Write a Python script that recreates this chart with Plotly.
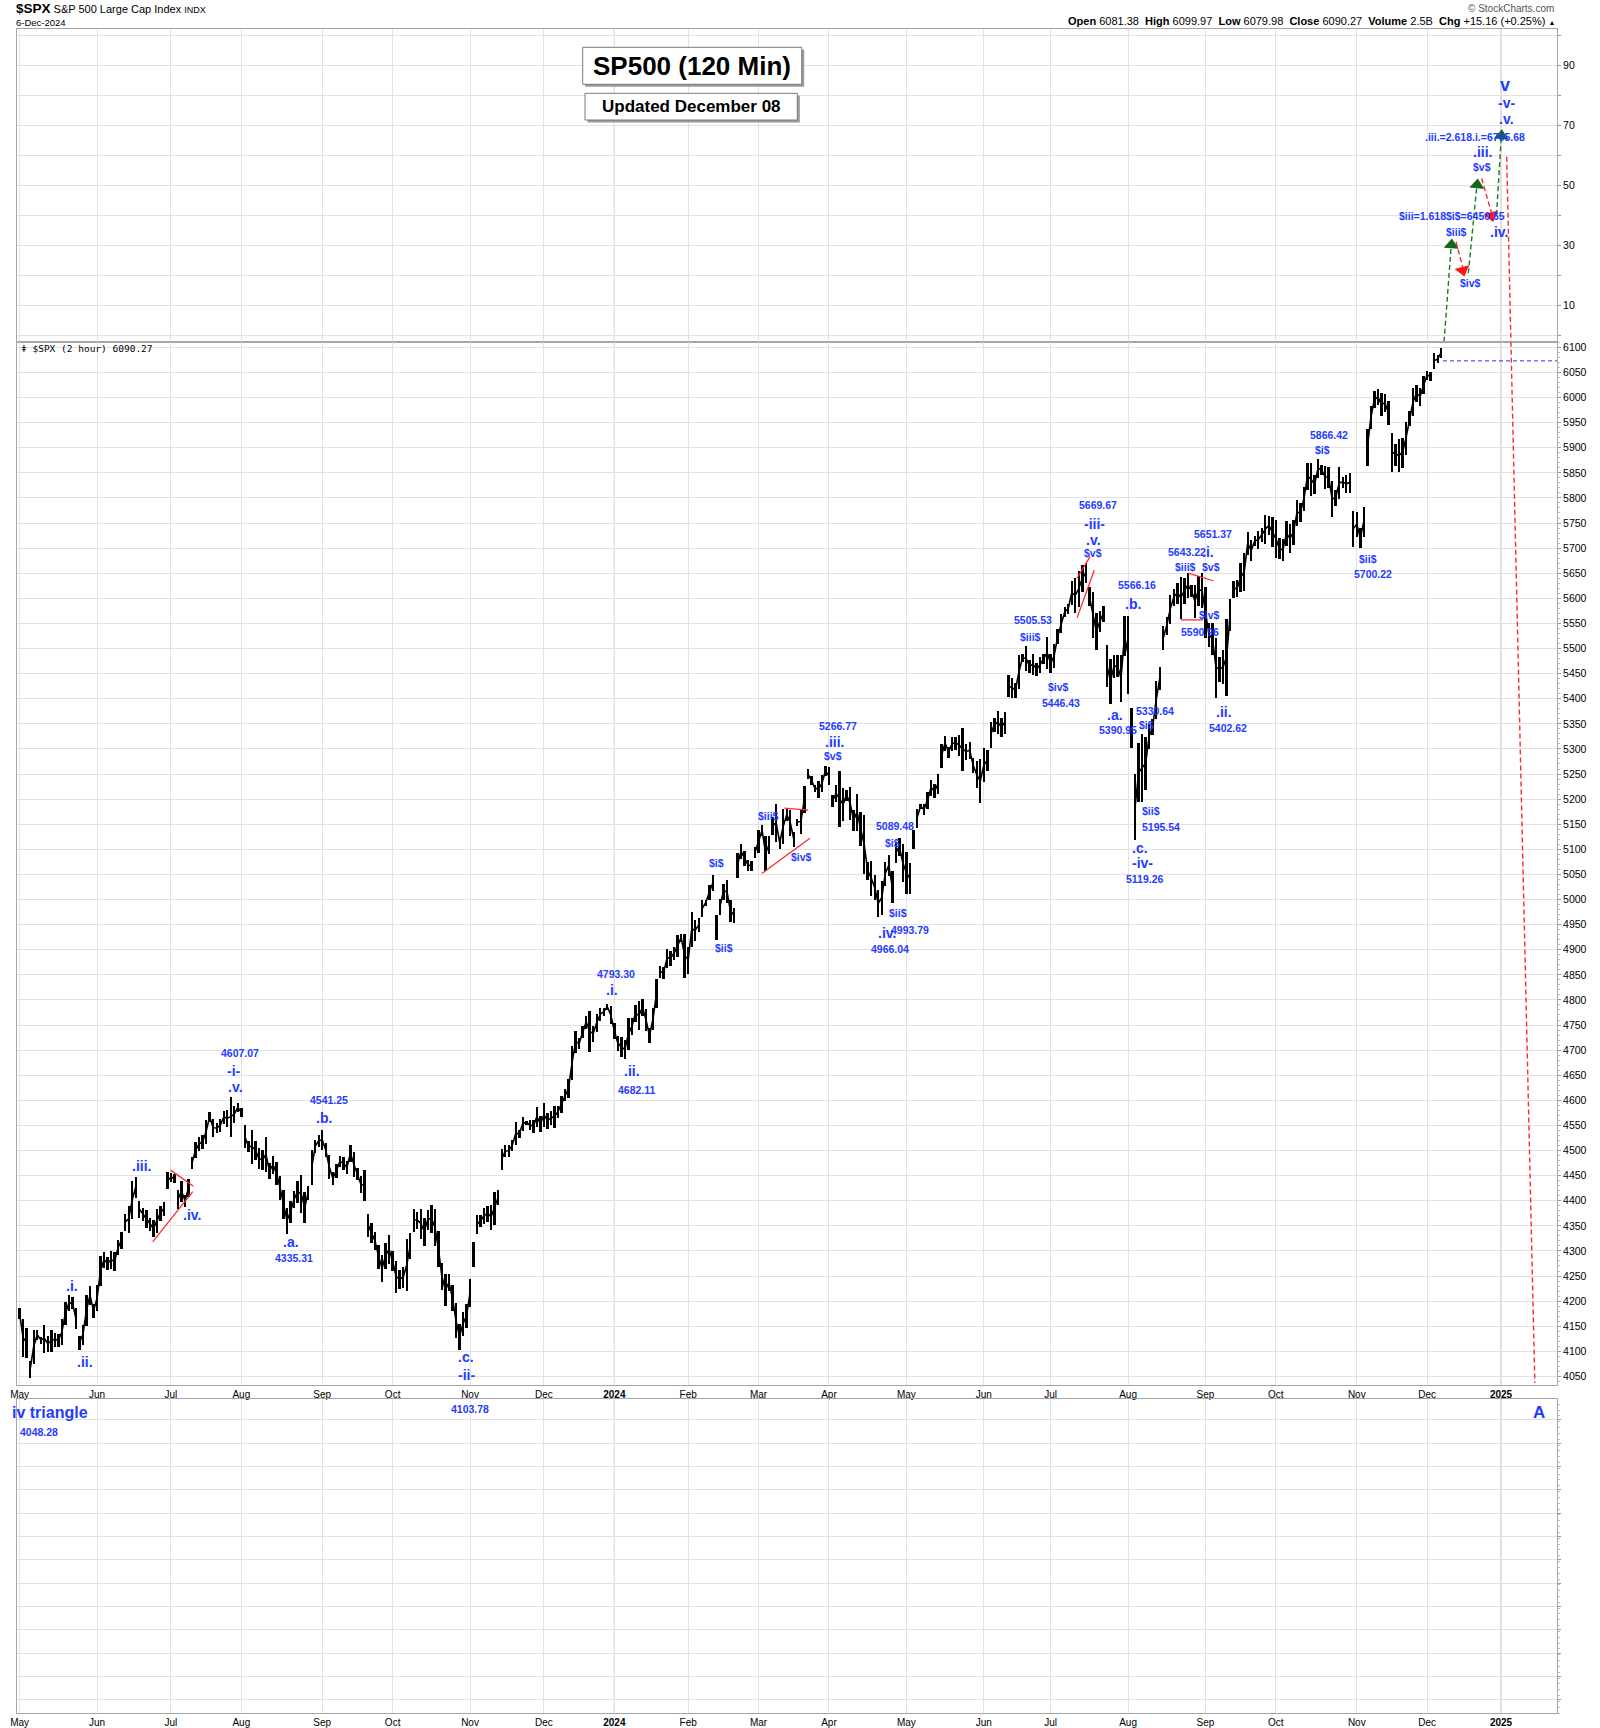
import pandas as pd
import plotly.graph_objects as go

# ---------------- data ----------------
holidays = pd.to_datetime([
    "2023-05-29", "2023-06-19", "2023-07-04", "2023-09-04", "2023-11-23", "2023-12-25",
    "2024-01-01", "2024-01-15", "2024-02-19", "2024-03-29", "2024-05-27", "2024-06-19",
    "2024-07-04", "2024-09-02", "2024-11-28", "2024-12-25", "2025-01-01", "2025-01-09",
    "2025-01-20"])
trading_days = [d for d in pd.bdate_range("2023-05-01", "2025-01-31") if d not in holidays]

high_2023 = [
    4186, 4164, 4148, 4082, 4143, 4143, 4130, 4154, 4132, 4143, 4138, 4135, 4164, 4198, 4212, 4208, 4186, 4132, 4154, 4212, 4231, 4195,
    4232, 4290, 4299, 4288, 4300, 4298, 4322, 4339, 4375, 4391, 4439, 4448, 4400, 4387, 4382, 4366, 4362, 4384, 4390, 4398, 4458,
    4456, 4454, 4422, 4440, 4412, 4443, 4488, 4517, 4527, 4532, 4562, 4578, 4564, 4555, 4563, 4580, 4582, 4607, 4590, 4595,
    4585, 4551, 4520, 4541, 4520, 4505, 4502, 4527, 4476, 4490, 4477, 4450, 4421, 4386, 4401, 4419, 4439, 4452, 4418, 4429, 4501, 4521, 4532,
    4541, 4515, 4491, 4458, 4473, 4490, 4488, 4479, 4511, 4497, 4466, 4449, 4461, 4375, 4357, 4338, 4313, 4292, 4317, 4333,
    4300, 4281, 4263, 4268, 4324, 4336, 4385, 4378, 4385, 4367, 4383, 4393, 4385, 4340, 4276, 4255, 4254, 4232, 4196, 4156, 4178, 4194,
    4245, 4319, 4373, 4372, 4386, 4391, 4393, 4418, 4421, 4504, 4511, 4512, 4521, 4557, 4542, 4568, 4560, 4561, 4562, 4588, 4569,
    4595, 4575, 4579, 4590, 4590, 4610, 4623, 4643, 4709, 4739, 4725, 4749, 4769, 4778, 4749, 4772, 4784, 4785, 4793, 4788,
]
low_2023 = [
    4164, 4089, 4088, 4048, 4076, 4123, 4116, 4098, 4099, 4099, 4110, 4109, 4113, 4153, 4180, 4184, 4145, 4103, 4114, 4152, 4192, 4166,
    4180, 4231, 4266, 4263, 4264, 4261, 4292, 4305, 4341, 4337, 4365, 4407, 4367, 4360, 4346, 4341, 4328, 4336, 4361, 4371, 4423,
    4437, 4436, 4385, 4398, 4389, 4408, 4463, 4485, 4499, 4504, 4514, 4557, 4527, 4535, 4537, 4553, 4547, 4528, 4555, 4577,
    4567, 4505, 4497, 4474, 4482, 4463, 4461, 4457, 4443, 4453, 4432, 4403, 4364, 4335, 4356, 4387, 4397, 4376, 4356, 4403, 4431, 4496, 4507,
    4501, 4487, 4443, 4431, 4446, 4467, 4461, 4453, 4478, 4447, 4442, 4416, 4401, 4329, 4316, 4302, 4265, 4239, 4264, 4274,
    4260, 4216, 4225, 4227, 4220, 4284, 4339, 4345, 4325, 4311, 4343, 4337, 4311, 4268, 4223, 4190, 4220, 4181, 4127, 4104, 4132, 4147,
    4188, 4268, 4334, 4348, 4355, 4359, 4343, 4353, 4393, 4461, 4487, 4487, 4500, 4511, 4525, 4540, 4552, 4541, 4536, 4547, 4537,
    4547, 4544, 4551, 4546, 4565, 4575, 4599, 4606, 4642, 4695, 4702, 4724, 4743, 4697, 4717, 4737, 4758, 4768, 4780, 4752,
]
high_2024 = [
    4755, 4729, 4726, 4721, 4764, 4765, 4790, 4798, 4802, 4782, 4744, 4785, 4842, 4868, 4866, 4903, 4898, 4906, 4929, 4932, 4932,
    4907, 4975, 4960, 4963, 4999, 5000, 5030, 5049, 4969, 5002, 5032, 5039, 4999, 4984, 5094, 5111, 5097, 5080, 5077, 5105,
    5140, 5149, 5128, 5127, 5165, 5190, 5125, 5180, 5180, 5179, 5136, 5162, 5179, 5226, 5261, 5247, 5229, 5236, 5249, 5266,
    5264, 5208, 5229, 5256, 5222, 5219, 5225, 5178, 5211, 5175, 5168, 5076, 5078, 5049, 5019, 5038, 5076, 5089, 5057, 5114, 5123, 5111,
    5096, 5073, 5139, 5181, 5191, 5190, 5215, 5239, 5230, 5250, 5311, 5326, 5305, 5325, 5325, 5329, 5342, 5311, 5315, 5282, 5276, 5280,
    5302, 5298, 5355, 5362, 5376, 5362, 5375, 5447, 5441, 5432, 5488, 5490, 5506, 5478, 5490, 5472, 5483, 5490, 5524,
    5490, 5510, 5539, 5570, 5583, 5590, 5635, 5642, 5655, 5666, 5670, 5623, 5614, 5571, 5575, 5586, 5508, 5480, 5488, 5487, 5487, 5566,
    5566, 5383, 5250, 5312, 5330, 5325, 5351, 5360, 5436, 5464, 5545, 5564, 5608, 5620, 5632, 5643, 5641, 5651, 5628, 5627, 5646, 5651,
    5623, 5552, 5551, 5522, 5484, 5497, 5560, 5600, 5636, 5637, 5670, 5690, 5733, 5716, 5725, 5735, 5741, 5767, 5764, 5763,
    5757, 5720, 5718, 5754, 5749, 5757, 5796, 5791, 5823, 5871, 5870, 5846, 5878, 5866, 5865, 5863, 5834, 5817, 5862, 5843, 5847, 5850, 5775,
    5772, 5741, 5783, 5937, 5983, 6013, 6017, 6009, 6008, 5993, 5930, 5909, 5917, 5920, 5952, 5973, 6020, 6025, 6020, 6044,
    6053, 6052, 6089, 6085, 6100,
]
low_2024 = [
    4722, 4699, 4687, 4682, 4700, 4730, 4756, 4740, 4769, 4739, 4714, 4740, 4785, 4844, 4842, 4865, 4869, 4881, 4887, 4916, 4845,
    4853, 4907, 4918, 4936, 4966, 4988, 4999, 5017, 4920, 4970, 4999, 4994, 4956, 4953, 5043, 5081, 5068, 5057, 5058, 5084,
    5094, 5127, 5057, 5092, 5130, 5115, 5102, 5112, 5158, 5128, 5105, 5148, 5131, 5172, 5240, 5229, 5215, 5203, 5214, 5246,
    5229, 5184, 5194, 5146, 5157, 5197, 5160, 5138, 5138, 5107, 5052, 5039, 5008, 4999, 4966, 4969, 5028, 5047, 4994, 5073, 5088, 5035,
    5011, 5011, 5101, 5143, 5180, 5169, 5180, 5207, 5202, 5211, 5263, 5297, 5283, 5297, 5299, 5287, 5256, 5279, 5280, 5252, 5222, 5192,
    5234, 5257, 5303, 5335, 5331, 5325, 5331, 5405, 5403, 5403, 5420, 5473, 5455, 5452, 5447, 5446, 5452, 5469, 5460,
    5451, 5461, 5509, 5531, 5563, 5569, 5587, 5571, 5584, 5614, 5632, 5586, 5522, 5497, 5534, 5553, 5424, 5391, 5441, 5444, 5395, 5485,
    5410, 5302, 5119, 5194, 5195, 5218, 5300, 5328, 5360, 5417, 5497, 5528, 5550, 5585, 5590, 5560, 5589, 5602, 5603, 5562, 5586, 5582,
    5521, 5503, 5488, 5403, 5434, 5430, 5406, 5535, 5601, 5604, 5614, 5615, 5686, 5674, 5704, 5698, 5712, 5708, 5727, 5703,
    5681, 5678, 5675, 5704, 5690, 5706, 5745, 5752, 5775, 5816, 5804, 5808, 5840, 5846, 5819, 5820, 5762, 5784, 5799, 5820, 5810, 5811, 5702,
    5723, 5700, 5722, 5864, 5937, 5979, 5986, 5963, 5971, 5945, 5853, 5865, 5853, 5861, 5887, 5944, 5963, 5992, 5984, 6007,
    6035, 6034, 6057, 6069, 6080,
]
day_high = high_2023 + high_2024
day_low = low_2023 + low_2024
n_days = min(len(day_high), len(day_low))
day_high, day_low = day_high[:n_days], day_low[:n_days]
bar_idx = list(range(n_days))

# price-axis tick values / top panel tick labels
price_ticks = list(range(4050, 6101, 50))
top_ticks = list(range(0, 101, 10))
top_tick_labels = ["" if v % 20 == 0 else str(v) for v in top_ticks]

# wave labels (trading-day index, price, text, style)
main_labels = [
    (14.8, 4231, ".i.", "w"), (18.5, 4079, ".ii.", "w"), (34.7, 4469, ".iii.", "w"), (48.9, 4372, ".iv.", "w"),
    (62.6, 4694, "4607.07", "n"), (61.0, 4658, "-i-", "w"), (61.3, 4627, ".v.", "w"),
    (87.9, 4601, "4541.25", "n"), (86.6, 4564, ".b.", "w"), (77.0, 4317, ".a.", "w"), (78.0, 4286, "4335.31", "n"),
    (126.9, 4088, ".c.", "w"), (126.9, 4052, "-ii-", "w"),
    (169.5, 4852, "4793.30", "n"), (168.2, 4819, ".i.", "w"), (173.9, 4658, ".ii.", "w"), (175.4, 4621, "4682.11", "n"),
    (198.0, 5073, "$i$", "n"), (200.2, 4904, "$ii$", "n"), (212.7, 5166, "$iii$", "n"), (222.1, 5085, "$iv$", "n"),
    (232.5, 5346, "5266.77", "n"), (231.7, 5314, ".iii.", "w"), (231.2, 5285, "$v$", "n"),
    (248.8, 5146, "5089.48", "n"), (248.1, 5113, "$i$", "n"), (249.7, 4973, "$ii$", "n"), (253.0, 4939, "4993.79", "n"),
    (246.4, 4933, ".iv.", "w"), (247.3, 4901, "4966.04", "n"),
    (288.1, 5556, "5505.53", "n"), (287.2, 5523, "$iii$", "n"), (295.1, 5424, "$iv$", "n"), (296.0, 5391, "5446.43", "n"),
    (306.5, 5785, "5669.67", "n"), (305.4, 5749, "-iii-", "w"), (305.1, 5716, ".v.", "w"), (305.1, 5690, "$v$", "n"),
    (317.4, 5626, "5566.16", "n"), (316.3, 5588, ".b.", "w"), (311.3, 5368, ".a.", "w"), (312.2, 5338, "5390.95", "n"),
    (322.6, 5376, "5330.64", "n"), (320.3, 5348, "$i$", "n"), (321.6, 5177, "$ii$", "n"), (324.3, 5144, "5195.54", "n"),
    (318.4, 5102, ".c.", "w"), (319.2, 5072, "-iv-", "w"), (319.8, 5041, "5119.26", "n"),
    (339.0, 5728, "5651.37", "n"), (337.7, 5693, ".i.", "w"), (331.8, 5693, "5643.22", "n"),
    (331.4, 5663, "$iii$", "n"), (338.5, 5663, "$v$", "n"), (338.1, 5567, "$iv$", "n"), (335.4, 5532, "5590.96", "n"),
    (342.3, 5374, ".ii.", "w"), (343.3, 5342, "5402.62", "n"),
    (372.1, 5925, "5866.42", "n"), (370.3, 5895, "$i$", "n"), (383.3, 5678, "$ii$", "n"), (384.5, 5648, "5700.22", "n"),
]
top_labels = [
    (422.1, 83.3, "v", "big"), (422.6, 77.4, "-v-", "w"), (422.6, 71.9, ".v.", "w"),
    (413.6, 66.1, ".iii.=2.618.i.=6765.68", "n"), (415.7, 60.9, ".iii.", "w"), (415.7, 55.9, "$v$", "n"),
    (407.2, 39.8, "$iii=1.618$i$=6450.65", "n"), (408.2, 34.4, "$iii$", "n"), (412.2, 17.4, "$iv$", "n"),
    (420.5, 34.4, ".iv.", "w"),
]
lower_labels = [
    (128.1, 13.05, "4103.78", "n"), (5.5, 12.07, "4048.28", "n"), (431.8, 12.9, "A", "A"),
]

# red triangle / wedge boundary lines (index, price)
trend_lines = [
    ((37.8, 4318), (49.2, 4418)), ((42.9, 4461), (49.4, 4429)),
    ((217.3, 5182), (224.1, 5178)), ((210.9, 5052), (224.6, 5122)),
    ((300.5, 5640), (304.2, 5683)), ((300.5, 5561), (305.4, 5656)),
    ((332.1, 5650), (339.2, 5635)), ((330.0, 5557), (336.2, 5557)),
]
# projected path in the upper panel (index, panel value)
proj_green = [[(404.8, -2.2), (406.9, 30.8)], [(411.7, 20.6), (414.2, 50.6)], [(419.7, 40.0), (421.1, 66.7)]]
proj_red = [[(408.2, 31.1), (410.1, 22.6)], [(415.5, 52.2), (418.3, 40.6)], [(422.6, 59.4), (423.8, -2.2)]]
proj_red_main = [(423.8, 6111.2), (430.6, 4036.9)]
green_heads = [(406.9, 30.0, 4), (414.2, 50.0, 6), (421.1, 66.4, 4)]
red_heads = [(410.1, 21.6, -15), (418.3, 39.8, -16)]
red_head_main = (430.6, 4027.0, -1)
last_price_line = (404.5, 436.9, 6073)

# ---------------- figure ----------------
BLUE = "#1f3cff"
GRID = "#e2e2e2"
YEARGRID = "#b8b8b8"
BORDER = "#a6a6a6"
FONT = "Liberation Sans, Arial, sans-serif"
X_RANGE = [-0.75, 436.9]

def px(xp):
    return (xp - 17) / 1540.0

def py(yp):
    return (1713 - yp) / 1684.0

# month ticks from the trading calendar
tick_vals, tick_text = [], []
for i, d in enumerate(trading_days):
    if i > X_RANGE[1]:
        break
    if i == 0 or d.month != trading_days[i - 1].month:
        tick_vals.append(i)
        tick_text.append("<b>%d</b>" % d.year if d.month == 1 else d.strftime("%b"))

fig = go.Figure()

fig.add_trace(go.Bar(
    x=bar_idx, y=[h - l for h, l in zip(day_high, day_low)], base=day_low,
    width=0.68, marker=dict(color="black", line=dict(width=0)),
    xaxis="x2", yaxis="y2", hoverinfo="skip"))

# thin trace linking the daily ranges, broken where the price gapped
mid_x, mid_y = [], []
for i in bar_idx:
    if i > 0 and (day_low[i] > day_high[i - 1] or day_high[i] < day_low[i - 1]):
        mid_x.append(None)
        mid_y.append(None)
    mid_x.append(i)
    mid_y.append((day_high[i] + day_low[i]) / 2)
fig.add_trace(go.Scatter(x=mid_x, y=mid_y, mode="lines", connectgaps=False,
                         line=dict(color="black", width=1.6), xaxis="x2", yaxis="y2", hoverinfo="skip"))

def seg_xy(segs):
    xs, ys = [], []
    for (a, b) in segs:
        xs += [a[0], b[0], None]
        ys += [a[1], b[1], None]
    return xs, ys

tx, ty = seg_xy(trend_lines)
fig.add_trace(go.Scatter(x=tx, y=ty, mode="lines", line=dict(color="#ff2a2a", width=1.3),
                         xaxis="x2", yaxis="y2", hoverinfo="skip"))

fig.add_trace(go.Scatter(x=[last_price_line[0], last_price_line[1]], y=[last_price_line[2]] * 2,
                         mode="lines", line=dict(color="#2030ff", width=1, dash="4px,3px"),
                         xaxis="x2", yaxis="y2", hoverinfo="skip"))

gx, gy = seg_xy(proj_green)
fig.add_trace(go.Scatter(x=gx, y=gy, mode="lines", line=dict(color="#1c7a1c", width=1.4, dash="5px,3px"),
                         xaxis="x", yaxis="y", hoverinfo="skip", cliponaxis=False))
rx, ry = seg_xy(proj_red)
fig.add_trace(go.Scatter(x=rx, y=ry, mode="lines", line=dict(color="#ff2a2a", width=1.4, dash="5px,3px"),
                         xaxis="x", yaxis="y", hoverinfo="skip", cliponaxis=False))
fig.add_trace(go.Scatter(x=[p[0] for p in proj_red_main], y=[p[1] for p in proj_red_main], mode="lines",
                         line=dict(color="#ff2a2a", width=1.4, dash="5px,3px"),
                         xaxis="x2", yaxis="y2", hoverinfo="skip", cliponaxis=False))

fig.add_trace(go.Scatter(x=[h[0] for h in green_heads], y=[h[1] for h in green_heads], mode="markers",
                         marker=dict(symbol="triangle-up", size=13, color="#16661a",
                                     angle=[h[2] for h in green_heads], line=dict(width=0)),
                         xaxis="x", yaxis="y", hoverinfo="skip", cliponaxis=False))
fig.add_trace(go.Scatter(x=[h[0] for h in red_heads], y=[h[1] for h in red_heads], mode="markers",
                         marker=dict(symbol="triangle-down", size=13, color="#ff1414",
                                     angle=[h[2] for h in red_heads], line=dict(width=0)),
                         xaxis="x", yaxis="y", hoverinfo="skip", cliponaxis=False))
fig.add_trace(go.Scatter(x=[red_head_main[0]], y=[red_head_main[1]], mode="markers",
                         marker=dict(symbol="triangle-down", size=13, color="#ff1414",
                                     angle=red_head_main[2], line=dict(width=0)),
                         xaxis="x2", yaxis="y2", hoverinfo="skip", cliponaxis=False))

STYLE = {"n": 10.5, "w": 14, "big": 18, "A": 17}
annotations = []

def add_labels(items, xr, yr):
    for (x, y, t, s) in items:
        annotations.append(dict(x=x, y=y, xref=xr, yref=yr, text="<b>%s</b>" % t, showarrow=False,
                                xanchor="center", yanchor="middle",
                                font=dict(family=FONT, size=STYLE[s], color=BLUE)))

add_labels(main_labels, "x2", "y2")
add_labels(top_labels, "x", "y")
add_labels(lower_labels, "x3", "y3")
annotations.append(dict(x=px(10), y=py(1412.5), xref="paper", yref="paper", text="<b>iv triangle</b>",
                        showarrow=False, xanchor="left", yanchor="middle",
                        font=dict(family=FONT, size=16, color=BLUE)))

# header texts
annotations += [
    dict(x=px(14), y=py(9), xref="paper", yref="paper", xanchor="left", yanchor="middle", showarrow=False,
         text="<span style='font-size:13.5px'><b>$SPX</b></span> S&amp;P 500 Large Cap Index <span style='font-size:9px'>INDX</span>",
         font=dict(family=FONT, size=11, color="black")),
    dict(x=px(14), y=py(22), xref="paper", yref="paper", xanchor="left", yanchor="middle", showarrow=False,
         text="6-Dec-2024", font=dict(family=FONT, size=9.5, color="black")),
    dict(x=px(1556), y=py(8.5), xref="paper", yref="paper", xanchor="right", yanchor="middle", showarrow=False,
         text="© StockCharts.com", font=dict(family=FONT, size=10, color="#555555")),
    dict(x=px(1557), y=py(21.5), xref="paper", yref="paper", xanchor="right", yanchor="middle", showarrow=False,
         text="<b>Open</b> 6081.38  <b>High</b> 6099.97  <b>Low</b> 6079.98  <b>Close</b> 6090.27  "
              "<b>Volume</b> 2.5B  <b>Chg</b> +15.16 (+0.25%) <span style='font-size:7px'>▲</span>",
         font=dict(family=FONT, size=11, color="black")),
    dict(x=px(19), y=py(348), xref="paper", yref="paper", xanchor="left", yanchor="middle", showarrow=False,
         text="ǂ $SPX (2 hour) 6090.27", font=dict(family="DejaVu Sans Mono, monospace", size=9.5, color="black")),
    dict(x=px(692.2), y=py(65.8), xref="paper", yref="paper", xanchor="center", yanchor="middle", showarrow=False,
         text="<b>SP500 (120 Min)</b>", font=dict(family=FONT, size=26, color="black")),
    dict(x=px(691.2), y=py(106.7), xref="paper", yref="paper", xanchor="center", yanchor="middle", showarrow=False,
         text="<b>Updated December 08</b>", font=dict(family=FONT, size=17, color="black")),
]

shapes = []
for (x0, y0, x1, y1) in [(582.7, 47.3, 801.7, 84.3), (585, 93.3, 797.3, 120)]:
    shapes.append(dict(type="rect", xref="paper", yref="paper", x0=px(x0 + 2.5), x1=px(x1 + 2.5),
                       y0=py(y1 + 2.5), y1=py(y0 + 2.5), fillcolor="#9a9a9a", line=dict(width=0)))
    shapes.append(dict(type="rect", xref="paper", yref="paper", x0=px(x0), x1=px(x1),
                       y0=py(y1), y1=py(y0), fillcolor="white", line=dict(color="#7a7a7a", width=1)))

# darker year separators
for tv, tt in zip(tick_vals, tick_text):
    if tt.startswith("<b>"):
        for xr, yr in [("x", "y domain"), ("x2", "y2 domain"), ("x3", "y3 domain")]:
            shapes.append(dict(type="line", xref=xr, yref=yr, x0=tv, x1=tv, y0=0, y1=1,
                               line=dict(color=YEARGRID, width=1), layer="below"))

xcommon = dict(range=X_RANGE, tickvals=tick_vals, ticktext=tick_text, showgrid=True, gridcolor=GRID,
               gridwidth=1, zeroline=False, showline=True, mirror=True, linecolor=BORDER, ticks="",
               tickfont=dict(family=FONT, size=10, color="black"), fixedrange=True, automargin=False)
ycommon = dict(side="right", showgrid=True, gridcolor=GRID, zeroline=False, showline=True, mirror=True,
               linecolor=BORDER, ticks="outside", ticklen=3, tickcolor="#999999",
               tickfont=dict(family=FONT, size=10.5, color="black"), fixedrange=True, automargin=False)

fig.update_layout(
    width=1600, height=1728, margin=dict(l=17, r=43, t=29, b=15, autoexpand=False),
    paper_bgcolor="white", plot_bgcolor="white", showlegend=False, hovermode=False,
    font=dict(family=FONT), bargap=0,
    xaxis=dict(xcommon, anchor="y", showticklabels=False),
    xaxis2=dict(xcommon, anchor="y2", showticklabels=True, matches="x"),
    xaxis3=dict(xcommon, anchor="y3", showticklabels=True, matches="x"),
    yaxis=dict(ycommon, domain=[0.81431, 1.0], range=[-2.2, 102], tickvals=top_ticks, ticktext=top_tick_labels),
    yaxis2=dict(ycommon, domain=[0.19477, 0.81431], range=[4032.9, 6111.2], tickvals=price_ticks,
                minor=dict(ticks="outside", ticklen=2, dtick=10, tickcolor="#bbbbbb", showgrid=False)),
    yaxis3=dict(ycommon, domain=[0.0, 0.18646], range=[0, 13.476], tick0=0.575, dtick=1, showticklabels=False,
                minor=dict(ticks="outside", ticklen=2, dtick=0.25, tickcolor="#bbbbbb", showgrid=False)),
    annotations=annotations, shapes=shapes,
)

fig.write_html("out.html", config={"displayModeBar": False},
               post_script="document.body.style.margin='0';document.body.style.padding='0';")
